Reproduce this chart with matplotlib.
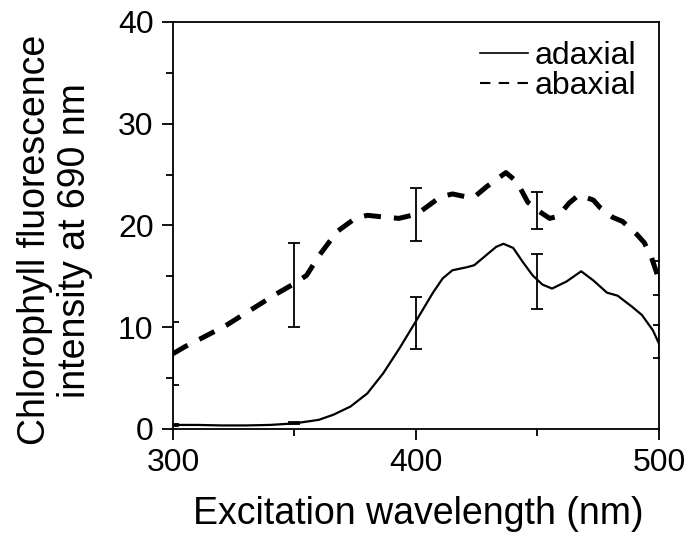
import matplotlib
matplotlib.use("Agg")
import matplotlib.pyplot as plt
from matplotlib.lines import Line2D
from matplotlib.ticker import MultipleLocator

plt.rcParams['font.family'] = ['Liberation Sans', 'DejaVu Sans']

# Adaxial (solid) spectrum
ad_x = [300, 310, 320, 330, 340, 350, 360, 366, 373, 380, 386.6, 393.4, 400, 407, 411, 415,
        421, 424, 429, 433, 436, 440, 444, 448, 452, 456, 462, 468, 473, 478.6, 483, 489,
        493, 497.5, 500]
ad_y = [0.4, 0.4, 0.35, 0.35, 0.4, 0.55, 0.9, 1.4, 2.2, 3.5, 5.5, 8.0, 10.6, 13.4, 14.8, 15.6,
        15.9, 16.1, 17.1, 17.9, 18.2, 17.8, 16.4, 15.1, 14.2, 13.8, 14.5, 15.5, 14.6, 13.4, 13.1, 12.0,
        11.2, 9.7, 8.4]

# Abaxial (dashed) spectrum
ab_x = [300, 305, 312, 322, 332, 342, 350, 355, 360, 367.5, 375, 380, 388, 393, 400, 402,
        410, 415, 421, 424, 429, 437, 441.5, 446, 450, 455, 458.5, 463, 467, 473, 476, 481,
        485, 491, 494, 497, 499, 500]
ab_y = [7.4, 8.1, 8.95, 10.2, 11.7, 13.2, 14.3, 15.1, 17.0, 19.4, 20.7, 21.0, 20.8, 20.7, 21.1, 21.4,
        22.8, 23.1, 22.8, 22.8, 23.8, 25.2, 24.3, 22.3, 21.5, 20.7, 20.9, 22.2, 23.0, 22.5, 21.7, 20.8,
        20.4, 19.1, 18.3, 16.8, 15.4, 14.5]

# Error bars
err_x = [300, 350, 400, 450, 500]
ab_mean = [7.4, 14.15, 21.1, 21.5, 14.85]
ab_err = [3.1, 4.1, 2.6, 1.8, 1.65]
ad_mean = [0.4, 0.55, 10.45, 14.5, 8.6]
ad_err = [0.1, 0.1, 2.55, 2.7, 1.6]

labels = ['adaxial', 'abaxial']
xticks = [300, 400, 500]
yticks = [0, 10, 20, 30, 40]

fig = plt.figure(figsize=(6.9, 5.39), dpi=100)
ax = fig.add_axes([0.2507, 0.2041, 0.7043, 0.7551])

ax.plot(ad_x, ad_y, color='black', lw=1.6, solid_joinstyle='round')
ax.plot(ab_x, ab_y, color='black', lw=3.6, dashes=(3.4, 2.6))

ax.errorbar(err_x, ab_mean, yerr=ab_err, fmt='none', ecolor='black', elinewidth=1.3,
            capsize=4.5, capthick=1.3)
ax.errorbar(err_x, ad_mean, yerr=ad_err, fmt='none', ecolor='black', elinewidth=1.3,
            capsize=4.5, capthick=1.3)

ax.set_xlim(300, 500)
ax.set_ylim(0, 40)
ax.set_xticks(xticks)
ax.set_yticks(yticks)
ax.xaxis.set_minor_locator(MultipleLocator(50))
ax.yaxis.set_minor_locator(MultipleLocator(5))
ax.tick_params(which='major', direction='out', length=8, width=1.3, labelsize=23, pad=6)
ax.tick_params(which='minor', direction='out', length=5, width=1.3)
for s in ax.spines.values():
    s.set_linewidth(1.3)

ax.set_xlabel('Excitation wavelength (nm)', fontsize=27)
ax.set_ylabel('Chlorophyll fluorescence\nintensity at 690 nm', fontsize=27, linespacing=1.15)
ax.xaxis.set_label_coords(0.504, -0.165)
ax.yaxis.set_label_coords(-0.165, 0.464)

handles = [Line2D([], [], color='black', lw=1.2),
           Line2D([], [], color='black', lw=1.5, dashes=(5, 4))]
ax.legend(handles, labels, loc='upper right', bbox_to_anchor=(0.953, 0.953), frameon=False,
          fontsize=23, handlelength=1.5, handletextpad=0.2, borderaxespad=0.0,
          labelspacing=0.0, borderpad=0.0)

fig.savefig('out.png', dpi=100)
